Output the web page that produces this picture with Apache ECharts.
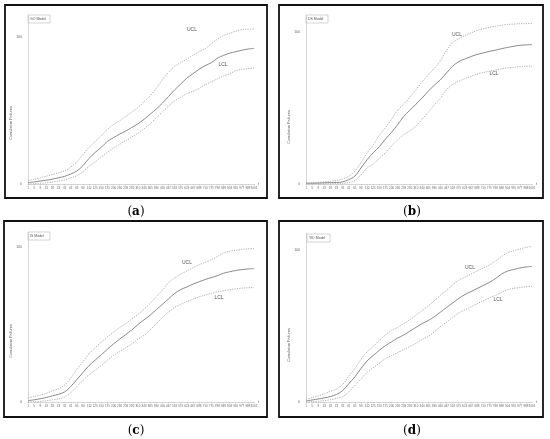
<!DOCTYPE html>
<html>
<head>
<meta charset="utf-8">
<script src="https://cdn.jsdelivr.net/npm/echarts@6/dist/echarts.min.js"></script>
<style>html,body{margin:0;padding:0;background:#fff}#c{width:550px;height:439px}</style>
</head>
<body>
<div id="c"></div>
<script>
// ---- data ----
var categories = ["1","5","9","13","18","23","31","41","65","90","110","125","150","175","206","230","259","282","310","340","365","390","416","447","518","575","624","667","688","710","775","798","849","904","955","977","988","1001"];
var yTickLabels = ["0", "100"];
var panelTitles = ["GO Model", "DS Model", "IS Model", "YID Model"];
var panelLetters = ["a", "b", "c", "d"];

var goMean = [0.9,1.4,2.0,2.6,3.3,4.2,5.2,6.8,8.8,12.5,17.5,21.5,25,29,31.5,34,36,38.5,41,44,47.5,51,55,59.5,64,68,72,75,78,80.5,82.5,85.5,87.5,89,90,91,91.8,92.3];
var goUCL  = [2.3,3.2,4.2,5.3,6.4,7.6,9.0,11.5,15,20,25,29,33,37,40.5,43,46,49,52,56,60,65,71,76,80,82.5,85,87.5,90,92,95.5,98.5,101,102.5,104,105,105.3,105.3];
var goLCL  = [0,0.2,0.5,0.8,1.3,2.0,2.8,4.2,5.6,8.3,12,15,18.5,21.5,24.5,27,29.5,32,34.5,37.5,41,45,49,53,56.5,59,61.5,63,65,67.5,69.5,71.5,73.5,75,77,78,78.5,78.8];

var dsMean = [0.4,0.5,0.6,0.8,0.9,1.0,1.4,2.8,5.2,10.5,16,20.5,24.5,29.5,34,39,44.5,48.5,52.5,56.5,61,65,68.5,73,77.5,80.5,82.2,83.8,85.2,86.2,87.2,88,89,89.8,90.6,91.2,91.5,91.7];
var dsUCL  = [0.7,0.9,1.1,1.4,1.8,2.4,3.3,5,8.5,14,20.5,25.5,32,37,42.5,48.5,52.5,57,62,67,71.5,76,81,88,93,95.5,97.7,99.3,101,102,103,103.8,104.4,104.9,105.2,105.4,105.5,105.6];
var dsLCL  = [0,0,0.1,0.1,0.2,0.2,0.4,0.9,2.2,6,10.5,13,17,20.5,25,29,32.5,35,38,42.5,47,52,56.5,62,65.5,67.5,69.3,70.8,72.3,73.3,74.2,75,75.8,76.4,76.8,77.1,77.4,77.5];

var isMean = [0.9,1.4,2.1,2.9,4.0,5.0,6.5,10,14.5,19,23.5,27,30.5,34,37.5,40.5,43.5,46.5,50,53,56,59.5,63,66.5,70,72.5,74.2,76,77.5,79,80.2,81.5,83,84,84.8,85.4,85.8,86.1];
var isUCL  = [2.6,3.5,4.5,5.6,7.2,8.5,11,15.5,21,26,31,35,38.5,42,45,48,50.5,53.5,56.5,60,63.5,68,72,77,80,82.5,84.5,86.5,88.5,90,91.8,93.8,96,97.2,97.8,98.4,98.8,99];
var isLCL  = [0,0.2,0.4,0.8,1.4,2,3.2,6,10,14,17.5,20.5,23.5,27,30,32.5,35,37.5,40.5,43,46.5,50.5,54.5,58,61,63,64.8,66.3,67.8,69,70,71,71.8,72.4,73,73.4,73.7,73.8];

var yidMean = [0.7,1.3,2,2.7,3.6,5,7.5,12,16.5,22,27,30.5,34,37,39.5,42,44,46.5,49,51.5,53.5,56,59,62,65,68,70.5,72.5,74.5,76.5,78.5,81,84,86,87,88,88.7,89];
var yidUCL  = [1.7,2.8,4,5.3,7,8.5,11.5,17,22,28,33,36.5,40.5,44,47,49,51.5,54,57,60,63,66.5,70,73.5,77,80,82,84,86,88,90,92.5,95.5,98,99.3,100.5,101.5,102.2];
var yidLCL  = [0,0.2,0.5,0.9,1.5,2.3,3.5,6.5,11,15,19.5,22.5,25.5,28.5,30.5,32.5,34.5,36.5,38.5,41,43,46,49.5,52.5,55.5,58.5,60.5,62.5,64.5,66.5,68.3,70,72,73.8,74.6,75.2,75.7,76];

var panelData = [
  [goMean, goUCL, goLCL],
  [dsMean, dsUCL, dsLCL],
  [isMean, isUCL, isLCL],
  [yidMean, yidUCL, yidLCL]
];
var yMax = [114.3, 110.5, 109, 111];

// ---- layout ----
var grids = [
  {left: 28, top: 16, width: 226, height: 168},
  {left: 306, top: 16, width: 226, height: 168},
  {left: 28, top: 233, width: 226, height: 169},
  {left: 306, top: 233, width: 226, height: 169}
];
var frames = [
  [5, 5, 262, 193],
  [279, 5, 264, 193],
  [4, 221, 263, 196],
  [279, 221, 264, 196]
];
var letterPos = [[136, 212], [412, 212], [136, 431], [412, 431]];
var yNamePos = [[11, 123], [289, 127], [11, 341], [289, 345]];
var titleBox = [[28, 15, 22, 8], [306, 15, 22, 8], [28, 232, 22, 8], [307, 234, 23, 8]];
var uclPos = [[192, 30], [457, 35], [187, 263], [470, 268]];
var lclPos = [[223, 65], [494, 74], [219, 298], [498, 300]];

var xAxes = [], yAxes = [], series = [], graphic = [];
for (var p = 0; p < 4; p++) {
  xAxes.push({
    type: 'category', gridIndex: p, data: categories, boundaryGap: false,
    name: 't', nameLocation: 'end', nameGap: 4,
    nameTextStyle: {fontSize: 4, color: '#555'},
    axisLine: {lineStyle: {color: '#bbb', width: 0.6}},
    axisTick: {show: true, length: 1.5, lineStyle: {color: '#bbb', width: 0.5}},
    axisLabel: {interval: 0, fontSize: 3, color: '#666', margin: 2.5, fontFamily: 'Liberation Sans'},
    splitLine: {show: false}
  });
  yAxes.push({
    type: 'value', gridIndex: p, min: 0, max: yMax[p], interval: 100,
    axisLine: {show: true, lineStyle: {color: '#bbb', width: 0.6}},
    axisTick: {show: false},
    axisLabel: {fontSize: 3.5, color: '#666', margin: 6, fontFamily: 'Liberation Sans',
      formatter: function (v) { return v === 0 ? yTickLabels[0] : (v === 100 ? yTickLabels[1] : ''); }},
    splitLine: {show: false}
  });
  var d = panelData[p];
  var styles = [
    {color: '#7a7a7a', width: 0.9, type: 'solid'},
    {color: '#9a9a9a', width: 0.8, type: [1.2, 1.2]},
    {color: '#9a9a9a', width: 0.8, type: [1.2, 1.2]}
  ];
  var names = ['Mean', 'UCL', 'LCL'];
  for (var s = 0; s < 3; s++) {
    series.push({
      type: 'line', name: panelTitles[p] + ' ' + names[s],
      xAxisIndex: p, yAxisIndex: p, data: d[s],
      showSymbol: false, smooth: 0.3, silent: true,
      lineStyle: styles[s]
    });
  }
  var f = frames[p];
  graphic.push({type: 'rect', shape: {x: f[0], y: f[1], width: f[2], height: f[3]},
    style: {fill: 'none', stroke: '#111', lineWidth: 1.8}});
  graphic.push({type: 'text', x: letterPos[p][0], y: letterPos[p][1],
    style: {text: '(' + '{b|' + panelLetters[p] + '})', fontSize: 12, fontFamily: 'DejaVu Serif', fill: '#000',
      align: 'center', verticalAlign: 'middle',
      rich: {b: {fontSize: 12, fontWeight: 'bold', fontFamily: 'DejaVu Serif', fill: '#000'}}}});
  graphic.push({type: 'text', x: yNamePos[p][0], y: yNamePos[p][1], rotation: Math.PI / 2,
    style: {text: 'Cumulative Failures', fontSize: 3.8, fill: '#555', fontFamily: 'Liberation Sans',
      align: 'center', verticalAlign: 'middle'}});
  var tb = titleBox[p];
  graphic.push({type: 'rect', shape: {x: tb[0], y: tb[1], width: tb[2], height: tb[3]},
    style: {fill: '#fff', stroke: '#aaa', lineWidth: 0.5}});
  graphic.push({type: 'text', x: tb[0] + 2, y: tb[1] + tb[3] / 2,
    style: {text: panelTitles[p], fontSize: 3.5, fill: '#555', fontFamily: 'Liberation Sans',
      align: 'left', verticalAlign: 'middle'}});
  graphic.push({type: 'text', x: uclPos[p][0], y: uclPos[p][1],
    style: {text: 'UCL', fontSize: 5, fill: '#555', fontFamily: 'Liberation Sans', align: 'center', verticalAlign: 'middle'}});
  graphic.push({type: 'text', x: lclPos[p][0], y: lclPos[p][1],
    style: {text: 'LCL', fontSize: 5, fill: '#555', fontFamily: 'Liberation Sans', align: 'center', verticalAlign: 'middle'}});
}

var chart = echarts.init(document.getElementById('c'), null, {renderer: 'canvas'});
chart.setOption({
  backgroundColor: '#fff',
  animation: false,
  grid: grids,
  xAxis: xAxes,
  yAxis: yAxes,
  series: series,
  graphic: graphic
});
</script>
</body>
</html>
